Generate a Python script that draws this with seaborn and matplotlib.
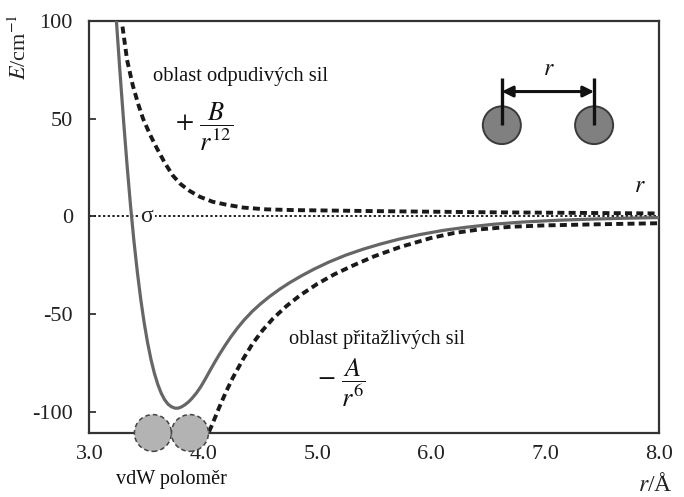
import matplotlib
matplotlib.use("Agg")
import matplotlib.pyplot as plt
import seaborn as sns
import pandas as pd
from matplotlib.patches import Ellipse

# ---- data ----
r_total = [3.235, 3.24, 3.27, 3.30, 3.33, 3.36, 3.39, 3.42, 3.45, 3.48, 3.51, 3.54,
           3.57, 3.60, 3.63, 3.66, 3.69, 3.72, 3.75, 3.78, 3.81, 3.84, 3.87, 3.90,
           3.94, 3.98, 4.02, 4.06, 4.10, 4.14, 4.19, 4.24, 4.30, 4.36, 4.43, 4.50,
           4.58, 4.67, 4.76, 4.86, 4.97, 5.10, 5.25, 5.40, 5.55, 5.72, 5.90, 6.10,
           6.30, 6.55, 6.80, 7.10, 7.40, 7.70, 8.00]
E_total = [101, 97, 72, 48.4, 26.2, 5.8, -12.4, -28.3, -42.3, -54.3, -64.5, -73.1,
           -80.2, -85.9, -90.4, -93.7, -96, -97.3, -98, -98, -97.3, -96.2, -94.8, -93,
           -90.2, -86.8, -82.8, -78.6, -74.5, -70.6, -66.0, -61.7, -57.0, -52.8, -48.5, -44.8,
           -41.0, -37.2, -33.8, -30.4, -27.0, -23.4, -19.8, -16.8, -14.2, -11.6, -9.3, -7.2,
           -5.6, -4.0, -2.9, -2.0, -1.4, -0.95, -0.6]

r_rep = [3.29, 3.33, 3.38, 3.43, 3.47, 3.53, 3.59, 3.66, 3.73, 3.80, 3.88, 3.97,
         4.08, 4.20, 4.35, 4.55, 4.80, 5.10, 5.50, 6.00, 6.50, 7.00, 7.50, 8.00]
E_rep = [97, 80, 67, 57, 50, 42, 35, 27.5, 21, 16.5, 13, 10,
         7.5, 6, 4.5, 3.6, 3.2, 3.0, 2.7, 2.4, 2.1, 1.9, 1.7, 1.5]

r_att = [4.05, 4.08, 4.14, 4.20, 4.26, 4.35, 4.43, 4.52, 4.61, 4.73, 4.85, 5.00,
         5.15, 5.31, 5.50, 5.72, 6.00, 6.20, 6.43, 6.70, 7.00, 7.50, 8.00]
E_att = [-110, -106, -97.5, -89.5, -82.3, -72.8, -65.2, -58.2, -52.3, -45.8, -40.3, -34.5,
         -29.6, -25.2, -20.4, -15.8, -11.0, -8.5, -6.6, -5.3, -4.6, -4.0, -3.5]

x_ticks = [3.0, 4.0, 5.0, 6.0, 7.0, 8.0]
x_ticklabels = ["3.0", "4.0", "5.0", "6.0", "7.0", "8.0"]
y_ticks = [-100, -50, 0, 50, 100]
y_ticklabels = ["-100", "-50", "0", "50", "100"]

sns.set_theme(style="white")
plt.rcParams["font.family"] = ["Liberation Serif", "DejaVu Serif"]
plt.rcParams["mathtext.fontset"] = "stix"

fig = plt.figure(figsize=(6.84, 4.97), dpi=100)
ax = fig.add_axes([0.1308, 0.1288, 0.8327, 0.8295])

df_total = pd.DataFrame({"r": r_total, "E": E_total})
df_rep = pd.DataFrame({"r": r_rep, "E": E_rep})
df_att = pd.DataFrame({"r": r_att, "E": E_att})

# zero line (dotted)
ax.axhline(0, color="#222222", lw=1.4, ls=(0, (1.2, 1.2)), zorder=1)

sns.lineplot(data=df_rep, x="r", y="E", ax=ax, color="#1a1a1a", lw=2.8,
             linestyle=(0, (1.8, 1.1)), zorder=3)
sns.lineplot(data=df_att, x="r", y="E", ax=ax, color="#1a1a1a", lw=2.8,
             linestyle=(0, (1.8, 1.1)), zorder=3)
sns.lineplot(data=df_total, x="r", y="E", ax=ax, color="#666666", lw=2.3,
             zorder=4)

ax.set_xlim(3.0, 8.0)
ax.set_ylim(-110.7, 100)
ax.set_xticks(x_ticks)
ax.set_xticklabels(x_ticklabels)
ax.set_yticks(y_ticks)
ax.set_yticklabels(y_ticklabels)
ax.set_xlabel("")
ax.set_ylabel("")

ax.tick_params(axis="y", direction="in", length=5, width=1.3, color="#333333",
               labelsize=16, pad=12, left=True, right=False)
ax.tick_params(axis="x", length=0, labelsize=16, pad=9)
for lab in ax.get_xticklabels() + ax.get_yticklabels():
    lab.set_color("#222222")
for sp in ax.spines.values():
    sp.set_color("#333333")
    sp.set_linewidth(1.6)
    sp.set_visible(True)

# axis labels
ax.text(-0.122, 0.936, r"$E$/cm$^{-1}$", transform=ax.transAxes, rotation=90,
        ha="center", va="center", fontsize=16, color="#222222")
ax.text(0.993, -0.126, r"$r$/Å", transform=ax.transAxes, ha="center",
        va="center", fontsize=17, color="#222222")

# sigma label with white background over the dotted line
ax.text(3.505, 0, "σ", ha="center", va="center", fontsize=17,
        color="#222222", zorder=2,
        bbox=dict(facecolor="white", edgecolor="none", pad=1.5))

# annotations
ax.text(4.33, 71.4, "oblast odpudivých sil", ha="center", va="center",
        fontsize=14.8, color="#111111")
ax.text(4.005, 46, r"$+\ \dfrac{B}{r^{12}}$", ha="center", va="center",
        fontsize=19, color="#111111")
ax.text(5.52, -63, "oblast přitažlivých sil", ha="center", va="center",
        fontsize=14.8, color="#111111")
ax.text(5.21, -85, r"$-\ \dfrac{A}{r^{6}}$", ha="center", va="center",
        fontsize=19, color="#111111")
ax.text(7.83, 15.5, r"$r$", ha="center", va="center", fontsize=17,
        color="#111111")
ax.text(3.716, -134.7, "vdW poloměr", ha="center", va="center", fontsize=14.5,
        color="#111111", clip_on=False)

# top-right diagram: two atoms with distance r
for cx in (6.62, 7.43):
    ax.add_patch(Ellipse((cx, 46.6), width=0.334, height=19.3,
                         facecolor="#808080", edgecolor="#3a3a3a", lw=1.4,
                         zorder=5))
    ax.plot([cx, cx], [46.6, 70.5], color="#111111", lw=2.4, zorder=6,
            solid_capstyle="butt")
ax.annotate("", xy=(6.62, 63.8), xytext=(7.43, 63.8),
            arrowprops=dict(arrowstyle="<|-|>", color="#111111", lw=2.2,
                            mutation_scale=16, shrinkA=0, shrinkB=0),
            zorder=6)
ax.text(7.03, 75, r"$r$", ha="center", va="center", fontsize=17,
        color="#111111")

# bottom: two touching vdW spheres
for cx in (3.557, 3.882):
    e = Ellipse((cx, -110.7), width=0.325, height=18.8, facecolor="#b3b3b3",
                edgecolor="#444444", lw=1.1, ls=(0, (3, 2)), zorder=6)
    e.set_clip_on(False)
    ax.add_patch(e)

fig.savefig("out.png", dpi=100)
